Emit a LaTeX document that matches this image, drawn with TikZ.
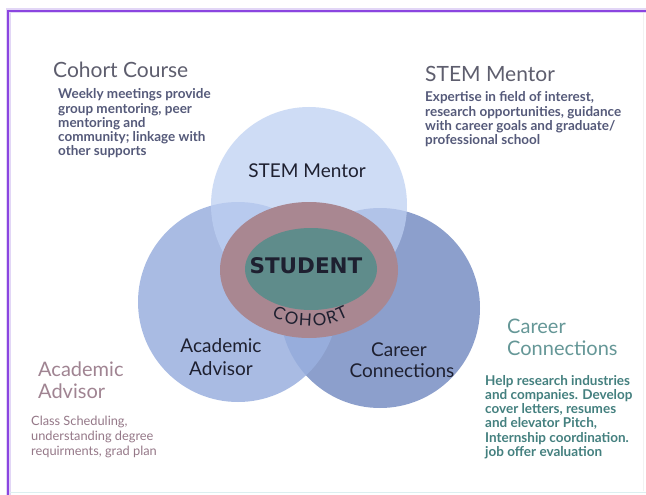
\documentclass[tikz,border=0pt]{standalone}
\usepackage{fontspec}
\setmainfont{Lato}
\newfontfamily\dejavu{DejaVu Sans}
\usetikzlibrary{shapes.geometric}
\definecolor{purp}{HTML}{8B45E0}
\definecolor{lav}{HTML}{E2D6F6}
\definecolor{cyanline}{HTML}{DCEFF0}
\definecolor{topc}{HTML}{BED0F2}
\definecolor{leftc}{HTML}{9AB0DF}
\definecolor{rightc}{HTML}{8C9FCC}
\definecolor{mauve}{HTML}{A98791}
\definecolor{teal}{HTML}{5F8C8B}
\definecolor{titlegray}{HTML}{5E5E6E}
\definecolor{descblue}{HTML}{555A7A}
\definecolor{acadtitle}{HTML}{A08492}
\definecolor{acaddesc}{HTML}{957888}
\definecolor{cartitle}{HTML}{659797}
\definecolor{cardesc}{HTML}{44807F}
\definecolor{labelc}{HTML}{1E2030}
\tikzset{
  ring/.style={circle, inner sep=0, draw=none},
  title/.style={anchor=base west, inner sep=0, font=\fontsize{21}{24}\selectfont},
  ltitle/.style={anchor=base west, inner sep=0, font=\fontsize{20}{24}\selectfont},
  desc/.style={anchor=base west, inner sep=0, font=\bfseries\fontsize{13.5}{14}\selectfont},
  adesc/.style={anchor=base west, inner sep=0, font=\fontsize{12.8}{14}\selectfont},
  clabel/.style={anchor=base, inner sep=0, text=labelc, font=\fontsize{19}{22}\selectfont},
  cohl/.style={anchor=base, inner sep=0, text=labelc, font=\fontsize{17}{20}\selectfont}
}
\begin{document}
\begin{tikzpicture}[x=1pt,y=-1pt]
\useasboundingbox (0,0) rectangle (646,495);
\fill[white] (0,0) rectangle (646,495);
% frame
\draw[line width=5, lav] (8,495) -- (8,11) -- (646,11);
\draw[line width=2.6, purp] (8,495) -- (8,11) -- (646,11);
\draw[line width=1.5, cyanline] (10,492.5) -- (646,492.5);
\draw[line width=1, black!5] (643,13) -- (643,491);
% circles
\node[ring, minimum size=200, fill=rightc] (right) at (380,308) {};
\node[ring, minimum size=200, fill=leftc, fill opacity=0.85] (left) at (238,302) {};
\node[ring, minimum size=196, fill=topc, fill opacity=0.74] (top) at (309,205) {};
\node[ellipse, inner sep=0, minimum width=178, minimum height=136, fill=mauve] (cohort) at (309,270) {};
\node[ellipse, inner sep=0, minimum width=132, minimum height=82, fill=teal] (core) at (311,269) {};
\node[anchor=base, inner sep=0, text=labelc, font=\dejavu\bfseries\fontsize{21.5}{24}\selectfont] (student) at (306,273.5) {STUDENT};
\foreach \l/\a [count=\i] in {C/-23.5, O/-13.75, H/-3.3, O/7.15, R/16.5, T/24.3}
  \node[cohl, rotate=\a] (coh\i) at ({310+83*sin(\a)},{243+83*cos(\a)}) {\l};
% circle labels
\node[clabel] (stemlab) at (307,177) {STEM Mentor};
\node[clabel] (acadlab1) at (221,352) {Academic};
\node[clabel] (acadlab2) at (221,375) {Advisor};
\node[clabel] (carlab1) at (399,356) {Career};
\node[clabel] (carlab2) at (402,377) {Connections};
% Cohort Course
\node[title, text=titlegray] (cctitle) at (53,78) {Cohort Course};
\foreach \t [count=\i] in {{Weekly meetings provide},{group mentoring, peer},{mentoring and},{community; linkage with},{other supports}}
  \node[desc, text=descblue] (ccd\i) at (58,{99+14.2*(\i-1)}) {\t};
% STEM Mentor
\node[title, text=titlegray] (smtitle) at (425,82) {STEM Mentor};
\foreach \t [count=\i] in {{Expertise in field of interest,},{research opportunities, guidance},{with career goals and graduate/},{professional school}}
  \node[desc, text=descblue] (smd\i) at (425,{102+14.3*(\i-1)}) {\t};
% Academic Advisor
\node[ltitle, text=acadtitle] (aatitle1) at (38,376) {Academic};
\node[ltitle, text=acadtitle] (aatitle2) at (38,398) {Advisor};
\foreach \t [count=\i] in {{Class Scheduling,},{understanding degree},{requirments, grad plan}}
  \node[adesc, text=acaddesc] (aad\i) at (31,{425+15*(\i-1)}) {\t};
% Career Connections
\node[ltitle, text=cartitle] (cctitle1) at (507,333) {Career};
\node[ltitle, text=cartitle] (cctitle2) at (507,355) {Connections};
\foreach \t [count=\i] in {{Help research industries},{and companies. Develop},{cover letters, resumes},{and elevator Pitch,},{Internship coordination.},{job offer evaluation}}
  \node[desc, text=cardesc] (crd\i) at (485,{385+14.3*(\i-1)}) {\t};
\end{tikzpicture}
\end{document}
